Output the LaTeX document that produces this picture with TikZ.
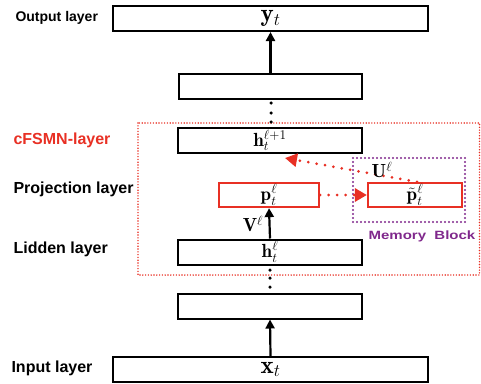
\documentclass[tikz,border=0pt]{standalone}
\usepackage{fix-cm}
\usepackage{fontspec}
\setsansfont{Liberation Sans}
\newfontfamily\widesans[FakeStretch=1.25]{Liberation Sans}
\usetikzlibrary{arrows.meta}

\definecolor{fsmnred}{RGB}{232,48,36}
\definecolor{memviolet}{RGB}{128,40,140}

\tikzset{
    layerbox/.style={draw, line width=2pt, minimum height=25pt, inner sep=0pt},
    projbox/.style={draw=fsmnred, line width=2.2pt, minimum height=24pt, inner sep=0pt},
    layername/.style={anchor=west, font=\sffamily\bfseries\fontsize{16}{18}\selectfont},
    mathlbl/.style={font=\fontsize{19}{21}\selectfont},
    biglbl/.style={font=\fontsize{25}{27}\selectfont},
    uparrow/.style={line width=2.2pt, -{Triangle[length=9pt,width=9pt]}},
    memlink/.style={draw=fsmnred, line width=3pt, line cap=round,
        dash pattern=on 0pt off 8.5pt, -{Triangle[length=12pt,width=13pt]}, fsmnred},
    vdot/.style={circle, fill, inner sep=0pt, minimum size=3.5pt}
}

\begin{document}
\begin{tikzpicture}[x=1pt, y=-1pt]
    \useasboundingbox (0, 0) rectangle (481, 383);

    % layers
    \node[layerbox, minimum width=315pt, biglbl] (out) at (270.5, 18.5) {$\mathbf{y}_t$};
    \node[layerbox, minimum width=183pt] (top) at (270.5, 86) {};
    \node[layerbox, minimum width=184pt, mathlbl] (hnext) at (270, 140.5) {$\mathbf{h}_t^{\ell+1}$};
    \node[projbox, minimum width=100pt, mathlbl] (proj) at (269, 195) {$\mathbf{p}_t^{\ell}$};
    \node[projbox, minimum width=94pt, mathlbl] (mem) at (415, 195) {$\tilde{\mathbf{p}}_t^{\ell}$};
    \node[layerbox, minimum width=184pt, mathlbl] (hid) at (270, 252) {$\mathbf{h}_t^{\ell}$};
    \node[layerbox, minimum width=184pt] (bot) at (270, 306) {};
    \node[layerbox, minimum width=315pt, biglbl] (in) at (270.5, 369.5) {$\mathbf{x}_t$};

    % frames
    \draw[fsmnred, line width=1.6pt, line cap=round, dash pattern=on 0pt off 2.8pt] (138, 123) rectangle (479.5, 275);
    \draw[memviolet, line width=2.2pt, line cap=round, dash pattern=on 0pt off 4pt] (353, 158) rectangle (465, 222);

    % dots
    \foreach \y in {103, 113, 122} \node[vdot] at (271, \y) {};
    \foreach \y in {270, 278, 287} \node[vdot] at (270, \y) {};

    % connectors
    \draw[uparrow] (top.north) -- (out.south);
    \draw[uparrow] (in.north) -- (bot.south);
    \draw[uparrow] (hid.north) -- (proj.south);
    \draw[memlink] (proj.east) -- (mem.west);
    \coordinate (uend) at (285, 158);
    \draw[memlink] ([xshift=2pt]mem.north) -- (uend);

    \node[mathlbl] (vlbl) at (253, 224) {$\mathbf{V}^{\ell}$};
    \node[mathlbl] (ulbl) at (382, 170) {$\mathbf{U}^{\ell}$};
    \node[memviolet, font=\widesans\bfseries\fontsize{12}{14}\selectfont] (memlbl) at (422, 236) {Memory\ \ Block};

    % layer names
    \node[layername, font=\sffamily\bfseries\fontsize{14}{16}\selectfont] (outname) at (12, 18) {Output layer};
    \node[layername, fsmnred] (fsmnname) at (10, 140) {cFSMN-layer};
    \node[layername] (projname) at (10, 189) {Projection layer};
    \node[layername] (hidname) at (10, 249) {Lidden layer};
    \node[layername] (inname) at (8, 368) {Input layer};
\end{tikzpicture}
\end{document}
